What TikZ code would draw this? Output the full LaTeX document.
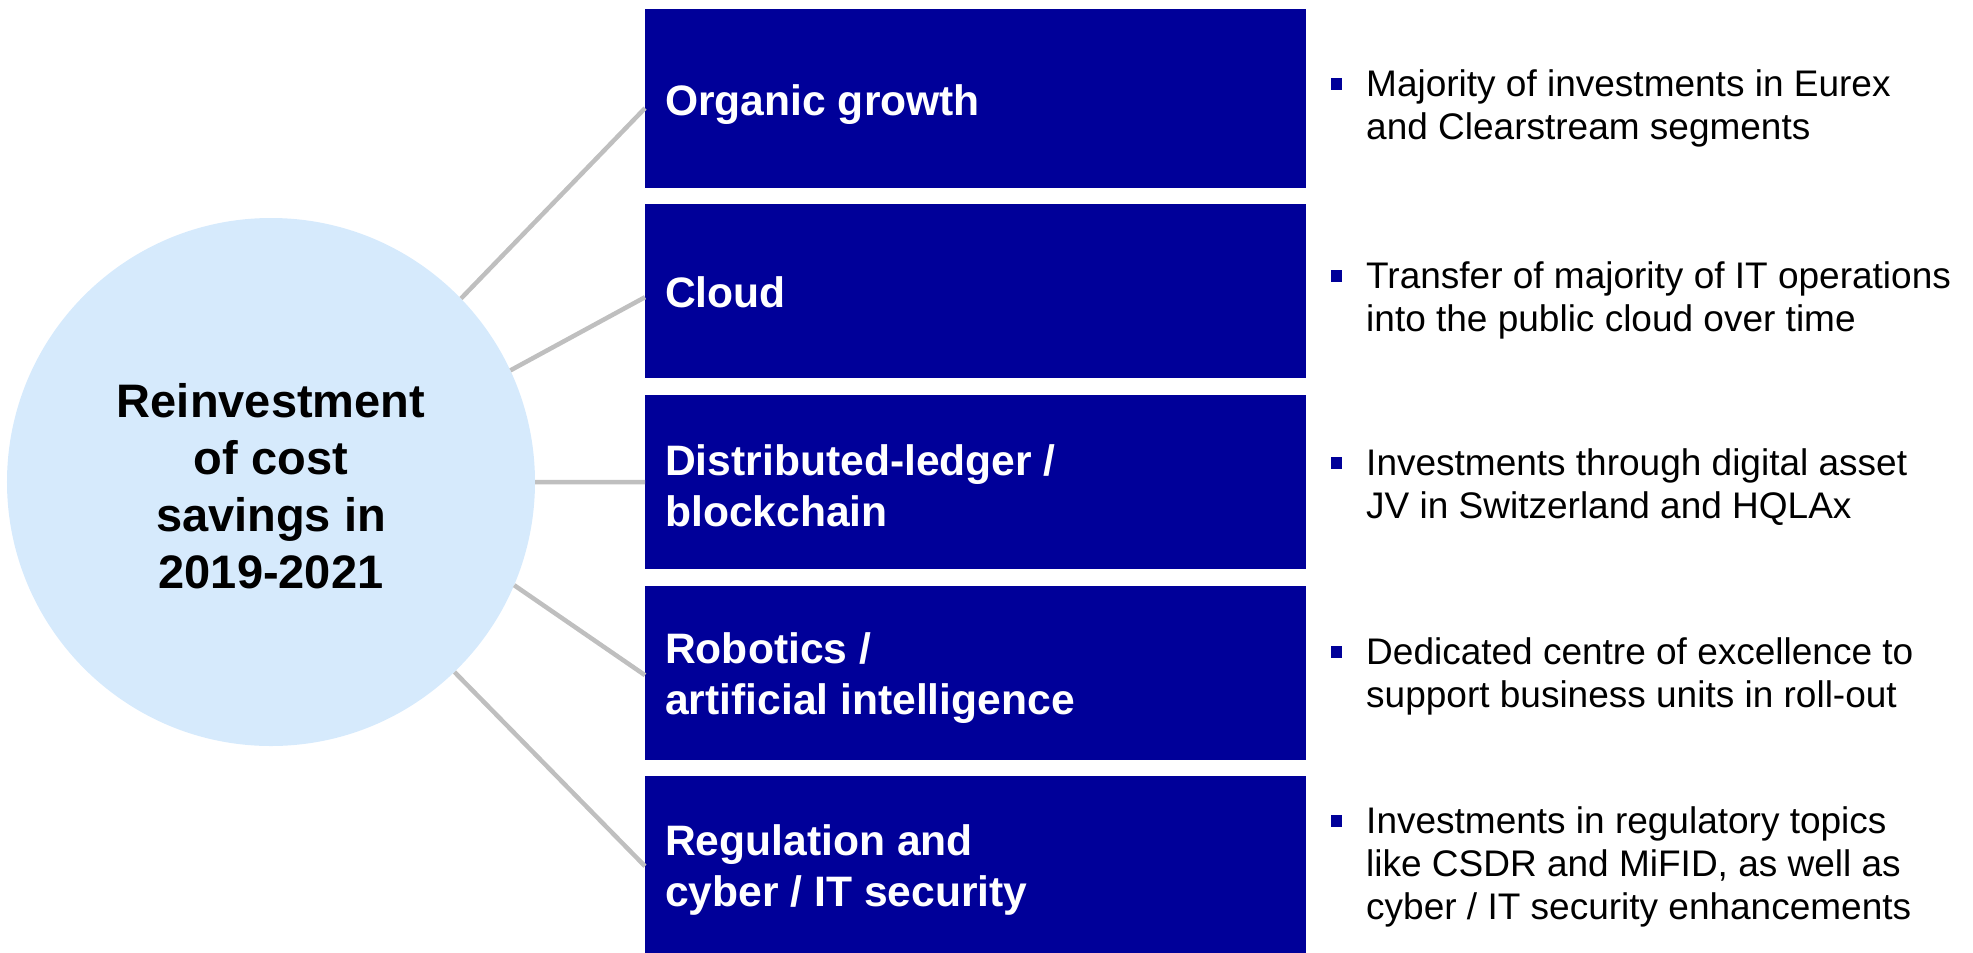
\documentclass[tikz,border=0pt]{standalone}
\usepackage{fontspec}
\setmainfont{Liberation Sans}
\usetikzlibrary{calc}
\definecolor{boxblue}{RGB}{0,0,153}
\definecolor{circblue}{RGB}{214,234,252}
\definecolor{linegray}{RGB}{191,191,191}
\newcommand{\bulletsq}{\llap{\textcolor{boxblue}{\rule[6.5bp]{11.5bp}{11.5bp}}\hspace{24bp}}}
\tikzset{
  bluebox/.style={fill=boxblue, draw=none, minimum width=661bp, inner sep=0pt, anchor=north west},
  boxlabel/.style={text=white, font=\bfseries\fontsize{42.6bp}{51bp}\selectfont, align=left, inner sep=0pt, anchor=base west},
  desc/.style={text=black, font=\fontsize{37bp}{43bp}\selectfont, align=left, inner sep=0pt, anchor=base west},
  hub/.style={circle, fill=circblue, draw=none, minimum size=528bp, inner sep=0pt},
  hubtext/.style={text=black, font=\bfseries\fontsize{47bp}{57bp}\selectfont, align=center, inner sep=0pt, anchor=base},
  conn/.style={draw=linegray, line width=4.5bp}
}
\begin{document}
\begin{tikzpicture}[x=1bp, y=-1bp]
\useasboundingbox (0,0) rectangle (1973,953);
% hub
\node[hub] (c) at (271,482) {};
\node[hubtext] (ct) at (271,588) {Reinvestment\\of cost\\savings in\\2019-2021};
% boxes
\node[bluebox, minimum height=179bp] (b1) at (645,9) {};
\node[bluebox, minimum height=174bp] (b2) at (645,204) {};
\node[bluebox, minimum height=174bp] (b3) at (645,395) {};
\node[bluebox, minimum height=174bp] (b4) at (645,586) {};
\node[bluebox, minimum height=177bp] (b5) at (645,776) {};
% box labels (anchored at the baseline of the last line)
\node[boxlabel] (l1) at (665,115.5) {Organic growth};
\node[boxlabel] (l2) at (665,307.5) {Cloud};
\node[boxlabel] (l3) at (665,526) {Distributed-ledger /\\blockchain};
\node[boxlabel] (l4) at (665,714) {Robotics /\\artificial intelligence};
\node[boxlabel] (l5) at (665,906) {Regulation and\\cyber / IT security};
% descriptions (anchored at the baseline of the last line)
\node[desc] (d1) at (1366,139) {\bulletsq Majority of investments in Eurex\\and Clearstream segments};
\node[desc] (d2) at (1366,331) {\bulletsq Transfer of majority of IT operations\\into the public cloud over time};
\node[desc] (d3) at (1366,518) {\bulletsq Investments through digital asset\\JV in Switzerland and HQLAx};
\node[desc] (d4) at (1366,707) {\bulletsq Dedicated centre of excellence to\\support business units in roll-out};
\node[desc] (d5) at (1366,919) {\bulletsq Investments in regulatory topics\\like CSDR and MiFID, as well as\\cyber / IT security enhancements};
% connectors
\draw[conn] (c.44.7) -- ($(b1.west)+(0,9.5)$);
\draw[conn] (c.25.4) -- ($(b2.west)+(0,6)$);
\draw[conn] (c.east) -- (b3.west);
\draw[conn] (c.-23.5) -- ($(b4.west)+(0,2)$);
\draw[conn] (c.-46) -- ($(b5.west)+(0,1.5)$);
\end{tikzpicture}
\end{document}
